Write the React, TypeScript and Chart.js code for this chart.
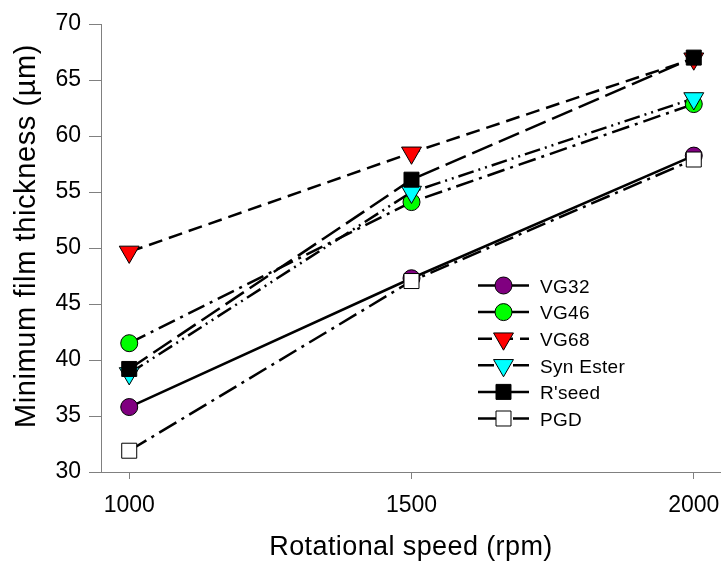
import React, { useEffect, useRef } from 'react';
import { Chart, registerables } from 'chart.js';

Chart.register(...registerables);

// ---- data ----
const speeds = [1000, 1500, 2000];
const xTickValues = [1000, 1500, 2000];
const seriesNames = ['VG32', 'VG46', 'VG68', 'Syn Ester', "R'seed", 'PGD'];
const vg32 = [35.8, 47.3, 58.25];
const vg46 = [41.5, 54.1, 62.85];
const vg68 = [49.65, 58.5, 66.9];
const synEster = [38.8, 55.0, 63.35];
const rseed = [39.2, 56.1, 67.0];
const pgd = [31.9, 47.05, 57.9];
const xTitle = 'Rotational speed (rpm)';
const yTitle = 'Minimum film thickness (µm)';

const FONT = '"Liberation Sans", Arial, sans-serif';

type Style = {
  color: string;
  shape: 'circle' | 'triangle' | 'rect';
  dash: number[];
  radius: number;
};

const styles: Style[] = [
  { color: '#800080', shape: 'circle', dash: [], radius: 8.5 },
  { color: '#00ff00', shape: 'circle', dash: [18, 6, 3, 6], radius: 8.5 },
  { color: '#ff0000', shape: 'triangle', dash: [14, 7], radius: 11.5 },
  { color: '#00ffff', shape: 'triangle', dash: [16, 5, 2, 5, 2, 5], radius: 11.5 },
  { color: '#000000', shape: 'rect', dash: [22, 7], radius: 10.6 },
  { color: '#ffffff', shape: 'rect', dash: [20, 6, 3, 6], radius: 10.6 },
];

const allSeries = [vg32, vg46, vg68, synEster, rseed, pgd];

function drawMarker(ctx: CanvasRenderingContext2D, s: Style, x: number, y: number) {
  ctx.save();
  ctx.setLineDash([]);
  ctx.fillStyle = s.color;
  ctx.strokeStyle = '#000';
  ctx.lineWidth = 1;
  ctx.beginPath();
  const r = s.radius;
  if (s.shape === 'circle') {
    ctx.arc(x, y, r, 0, Math.PI * 2);
  } else if (s.shape === 'rect') {
    const h = r * Math.SQRT1_2;
    ctx.rect(x - h, y - h, 2 * h, 2 * h);
  } else {
    const w = r * Math.sin((2 * Math.PI) / 3);
    ctx.moveTo(x, y + r);
    ctx.lineTo(x - w, y - r / 2);
    ctx.lineTo(x + w, y - r / 2);
    ctx.closePath();
  }
  ctx.fill();
  ctx.stroke();
  ctx.restore();
}

const extrasPlugin = {
  id: 'extras',
  afterDraw(chart: any) {
    const ctx: CanvasRenderingContext2D = chart.ctx;
    const area = chart.chartArea;
    const xs = chart.scales.x;
    ctx.save();
    // x axis extends a little to the left of the y axis
    ctx.strokeStyle = '#808080';
    ctx.lineWidth = 1;
    ctx.beginPath();
    ctx.moveTo(93, Math.round(area.bottom) + 0.5);
    ctx.lineTo(area.left, Math.round(area.bottom) + 0.5);
    ctx.stroke();

    // x tick labels
    ctx.fillStyle = '#000';
    ctx.font = `23px ${FONT}`;
    ctx.textAlign = 'center';
    ctx.textBaseline = 'alphabetic';
    xTickValues.forEach((v) => {
      ctx.fillText(String(v), xs.getPixelForValue(v), 512);
    });

    // axis titles
    (ctx as any).letterSpacing = '0.4px';
    ctx.font = `27px ${FONT}`;
    ctx.textBaseline = 'middle';
    ctx.fillText(xTitle, 411, 548);

    ctx.save();
    (ctx as any).letterSpacing = '0.6px';
    ctx.font = `29px ${FONT}`;
    ctx.translate(27, 236);
    ctx.rotate(-Math.PI / 2);
    ctx.fillText(yTitle, 0, 0);
    ctx.restore();

    // legend
    (ctx as any).letterSpacing = '0.3px';
    ctx.font = `19px ${FONT}`;
    ctx.textAlign = 'left';
    ctx.textBaseline = 'middle';
    chart.data.datasets.forEach((ds: any, i: number) => {
      const s = styles[i];
      const y = 285.5 + i * 26.6;
      ctx.save();
      ctx.strokeStyle = '#000';
      ctx.lineWidth = 2.5;
      ctx.setLineDash(s.dash);
      ctx.beginPath();
      ctx.moveTo(478, y);
      ctx.lineTo(529, y);
      ctx.stroke();
      ctx.restore();
      drawMarker(ctx, s, 503.5, y);
      ctx.fillStyle = '#000';
      ctx.fillText(ds.label, 540, y + 2);
    });
    ctx.restore();
  },
};

export default function App() {
  const ref = useRef<HTMLCanvasElement | null>(null);

  useEffect(() => {
    if (!ref.current) return;
    const datasets = allSeries.map((vals, i) => {
      const s = styles[i];
      return {
        label: seriesNames[i],
        data: speeds.map((x, j) => ({ x, y: vals[j] })),
        borderColor: '#000',
        borderWidth: 2.5,
        borderDash: s.dash,
        pointStyle: s.shape,
        pointRotation: s.shape === 'triangle' ? 180 : 0,
        pointRadius: s.radius,
        pointHoverRadius: s.radius,
        pointBackgroundColor: s.color,
        pointBorderColor: '#000',
        pointBorderWidth: 1,
        tension: 0,
        fill: false,
        clip: false,
        order: allSeries.length - i,
      };
    });

    const chart = new Chart(ref.current, {
      type: 'line',
      data: { datasets },
      plugins: [extrasPlugin],
      options: {
        animation: false,
        responsive: false,
        devicePixelRatio: 1,
        layout: { autoPadding: false, padding: { top: 24, left: 0, right: 0, bottom: 0 } },
        plugins: {
          legend: { display: false },
          title: { display: false },
          tooltip: { enabled: false },
        },
        scales: {
          x: {
            type: 'linear',
            min: 950,
            max: 2050,
            afterBuildTicks: (scale: any) => {
              scale.ticks = xTickValues.map((v) => ({ value: v }));
            },
            afterFit: (scale: any) => {
              scale.height = 90;
            },
            ticks: { display: false },
            grid: {
              drawOnChartArea: false,
              drawTicks: true,
              tickLength: 7,
              color: '#808080',
            },
            border: { display: true, color: '#808080', width: 1 },
          },
          y: {
            type: 'linear',
            min: 30,
            max: 70,
            afterFit: (scale: any) => {
              scale.width = 101;
            },
            ticks: {
              stepSize: 5,
              color: '#000',
              padding: 8,
              font: { family: FONT, size: 23 },
            },
            grid: {
              drawOnChartArea: false,
              drawTicks: true,
              tickLength: 12,
              color: '#808080',
            },
            border: { display: true, color: '#808080', width: 1 },
          },
        },
      } as any,
    });
    return () => chart.destroy();
  }, []);

  return (
    <div
      style={{
        position: 'fixed',
        left: 0,
        top: 0,
        width: 721,
        height: 562,
        overflow: 'hidden',
        background: '#fff',
      }}
    >
      <canvas ref={ref} width={722} height={562} style={{ width: 722, height: 562, display: 'block' }} />
    </div>
  );
}
